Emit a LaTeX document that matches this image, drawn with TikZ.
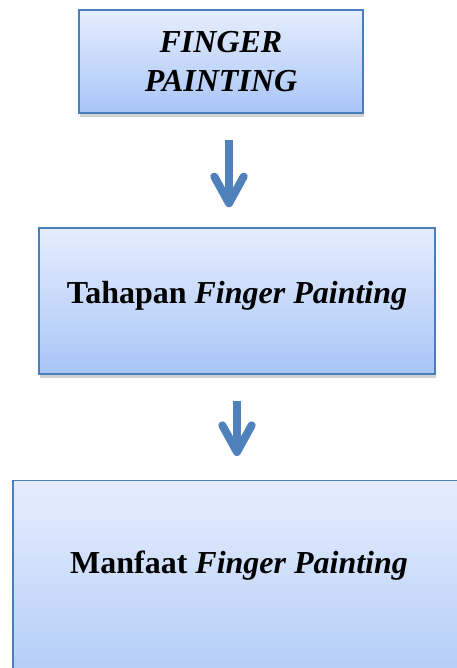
\documentclass[tikz,border=0pt]{standalone}
\usepackage{fontspec}
\setmainfont{Liberation Serif}
\usetikzlibrary{arrows.meta,shadows}

\definecolor{boxtop}{HTML}{E6EEFD}
\definecolor{boxbottom}{HTML}{A8C5F7}
\definecolor{boxline}{HTML}{4A7EBB}
\definecolor{arrowblue}{HTML}{4F81BD}

\tikzset{
  labeltext/.style={font=\fontsize{24pt}{30pt}\selectfont\bfseries},
  stagebox/.style={labeltext, draw=boxline, line width=1.1pt, top color=boxtop,
    bottom color=boxbottom, align=center,
    drop shadow={shadow xshift=1pt, shadow yshift=-3pt, opacity=0.25, fill=black!70}},
  flow/.style={draw=arrowblue, line width=6pt,
    -{Straight Barb[length=20pt, width=22pt, line join=round, line cap=round]}}
}

\begin{document}
\begin{tikzpicture}[x=0.75pt, y=-0.75pt]
  \clip (0,0) rectangle (457,668);
  \fill[white] (0,0) rectangle (457,668);

  \node[stagebox, minimum width=213pt, minimum height=77pt]
    (judul) at (221,61.5) {\textit{FINGER}\\[-1pt]\textit{PAINTING}};
  \node[stagebox, minimum width=297pt, minimum height=109.5pt,
    text height=16pt, text depth=13pt]
    (tahapan) at (237,301) {Tahapan \textit{Finger Painting}};
  \node[stagebox, minimum width=339pt, minimum height=180pt, anchor=north]
    (manfaat) at (239,480) {};
  \node[labeltext] (manfaatteks) at (239,566) {Manfaat \textit{Finger Painting}};

  \draw[flow, shorten <=20pt, shorten >=15pt]
    ([xshift=6pt]judul.south) -- ([xshift=-6pt]tahapan.north);
  \draw[flow, shorten <=20pt, shorten >=18pt]
    ([xshift=0pt]tahapan.south) -- ([xshift=-1.5pt]manfaat.north);
\end{tikzpicture}
\end{document}
